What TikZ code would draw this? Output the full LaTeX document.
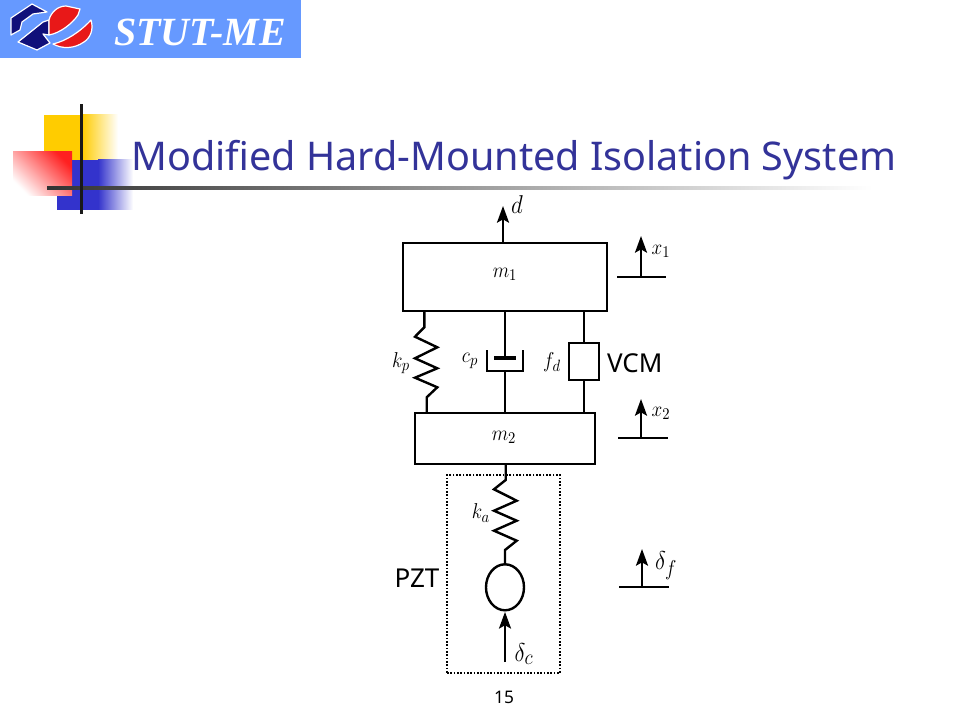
\documentclass[tikz,border=0pt]{standalone}
\usepackage{fontspec}
\usetikzlibrary{arrows.meta,shapes.geometric}
\setmainfont{Noto Sans}
\newfontfamily\logofont{Liberation Serif}
\definecolor{bannerblue}{HTML}{6699FF}
\definecolor{titleblue}{HTML}{333399}
\definecolor{logoblue}{HTML}{10107A}
\definecolor{logored}{HTML}{E81818}
\definecolor{accyellow}{HTML}{FFCC00}
\definecolor{accblue}{HTML}{3333CC}
\definecolor{accred}{HTML}{FF2020}
\definecolor{accline}{HTML}{333333}
\newcommand\symb[1]{\scalebox{1}[1.12]{$#1$}}
\tikzset{
  x=0.75pt,y=-0.75pt,
  part/.style={draw=black,line width=2.2pt,inner sep=0pt,outer sep=0pt,rectangle},
  rod/.style={draw=black,line width=1.8pt,line join=miter},
  thinrod/.style={draw=black,line width=1.3pt,line join=miter},
  pistonbar/.style={draw=black,line width=2.3pt},
  ref/.style={draw=black,line width=2.1pt},
  upArrow/.style={draw=black,line width=1.8pt,-{Stealth[length=12.5pt,width=9pt,inset=2.5pt]}},
  sym/.style={inner sep=0pt,outer sep=0pt,font=\fontsize{15pt}{17pt}\selectfont},
  bigsym/.style={inner sep=0pt,outer sep=0pt,font=\fontsize{19pt}{21pt}\selectfont},
  lab/.style={inner sep=0pt,outer sep=0pt,font=\fontsize{19.5pt}{22pt}\selectfont},
  logopart/.style={draw=white,line width=0.9pt,line join=round},
}
\begin{document}
\begin{tikzpicture}
\useasboundingbox (0,0) rectangle (960,720);
\fill[white] (0,0) rectangle (960,720);
% banner
\fill[bannerblue] (0,0) rectangle (301,58);
\filldraw[logopart,fill=logoblue] (11,18) -- (32,4) -- (47,12) -- (33,14) -- (22,22) -- (20,30) -- (11,35) -- cycle;
\filldraw[logopart,fill=logoblue] (18,42) -- (43,22) -- (49,20) -- (49,35) -- (43,34) -- (50,43) -- (37,50) -- cycle;
\filldraw[logopart,fill=logored] (49,20) .. controls (51,12) and (58,6) .. (66,6) -- (80,9) -- (78,15) .. controls (72,24) and (60,33) .. (49,35) -- cycle;
\filldraw[logopart,fill=logored] (53,44) .. controls (66,41) and (80,32) .. (91,20) .. controls (94,30) and (90,38) .. (84,42) .. controls (74,49) and (62,49) .. (53,44) -- cycle;
\node[inner sep=0pt,text=white,font=\logofont\fontsize{30pt}{32pt}\selectfont\bfseries\itshape] (logotext) at (200,32) {STUT-ME};
% accent squares
\shade[left color=accyellow,right color=white] (82,115) rectangle (118,160);
\fill[accyellow] (44,115) rectangle (83,160);
\fill[accblue] (57,160) rectangle (99,210);
\shade[left color=accblue,right color=white] (98,160) rectangle (133,210);
\shade[shading=axis,top color=accred,bottom color=white,shading angle=-45] (13,152) rectangle (72,196);
\shade[left color=accline,right color=white] (47,187) rectangle (872,190);
\fill[black!90] (80,104) rectangle (82.7,214);
% title
\node[inner sep=0pt,anchor=base west,text=titleblue] (title) at (131,171)
  {\resizebox{573.75pt}{!}{\fontsize{31.5pt}{36pt}\selectfont Modified Hard-Mounted Isolation System}};
% masses
\node[part,minimum width=153pt,minimum height=51pt] (m1) at (505,277) {};
\node[part,minimum width=135pt,minimum height=38.25pt] (m2) at (505,438.5) {};
\node[sym] (lm1) at (505,274) {\symb{m_{1}}};
\node[sym] (lm2) at (504,437) {\symb{m_{2}}};
% disturbance
\coordinate (dtip) at (503,206);
\draw[upArrow] (m1.north -| dtip) -- (dtip);
\node[bigsym] (ld) at (517,205) {\symb{d}};
% kp spring
\coordinate (kpa) at (424.3,311);
\coordinate (kpb) at (426.7,413);
\draw[rod] (kpa) -- (424.3,327.3) -- (415,336.7) -- (437.3,347.3) -- (415,358.3) -- (437.3,368.3) -- (415,377.7) -- (437.3,387.3) -- (426.7,397.3) -- (kpb);
\node[sym] (lkp) at (401,363) {\symb{k_p}};
% damper
\coordinate (dpa) at (505,311);
\coordinate (dpb) at (505,413);
\coordinate (dpp) at (505,358);
\coordinate (dpc) at (505,371);
\draw[rod] (dpa) -- (dpp);
\draw[pistonbar] (494,358) -- (516,358);
\draw[thinrod] (487,350) -- (487,371) -- (523,371) -- (523,350);
\draw[rod] (dpc) -- (dpb);
\node[sym] (lcp) at (470,361) {\symb{c_p}};
% VCM
\node[part,minimum width=22.5pt,minimum height=27.75pt] (vcm) at (584,361.5) {};
\draw[rod] (vcm.north |- m1.south) -- (vcm.north);
\draw[rod] (vcm.south) -- (vcm.south |- m2.north);
\node[sym] (lfd) at (552,362) {\symb{f_d}};
\node[lab,anchor=west] (lvcm) at (607,363) {VCM};
% PZT frame
\node[draw=black,dash pattern=on 1.3pt off 1.2pt,line width=1.6pt,minimum width=84.75pt,minimum height=148.5pt,inner sep=0pt,outer sep=0pt] (pzt) at (503.5,574) {};
% ka spring and actuator
\node[draw=black,line width=1.8pt,ellipse,minimum width=28.5pt,minimum height=34.5pt,inner sep=0pt,outer sep=0pt] (act) at (505,587.3) {};
\coordinate (kaa) at (505.7,464);
\draw[rod] (kaa) -- (505.7,480) -- (494,489.3) -- (516.7,500.7) -- (494,510.7) -- (516.7,520.7) -- (494,530.7) -- (516.7,540.7) -- (505,550) -- (act.north);
\node[sym] (lka) at (481,513) {\symb{k_a}};
\coordinate (dcb) at (505,662);
\draw[upArrow] (dcb) -- ([yshift=-1.2pt]act.south);
\node[bigsym] (ldc) at (524,654) {\symb{\delta_c}};
\node[lab] (lpzt) at (417,578) {PZT};
% reference marks
\coordinate (x1l) at (617,277); \coordinate (x1r) at (666,277);
\coordinate (x1b) at (641,277); \coordinate (x1t) at (641,236);
\draw[ref] (x1l) -- (x1r); \draw[upArrow] (x1b) -- (x1t);
\node[sym] (lx1) at (661,251) {\symb{x_{1}}};
\coordinate (x2l) at (618,438); \coordinate (x2r) at (668,438);
\coordinate (x2b) at (641,438); \coordinate (x2t) at (641,399);
\draw[ref] (x2l) -- (x2r); \draw[upArrow] (x2b) -- (x2t);
\node[sym] (lx2) at (661,413) {\symb{x_{2}}};
\coordinate (dfl) at (619,587); \coordinate (dfr) at (669,587);
\coordinate (dfb) at (642,587); \coordinate (dft) at (642,549);
\draw[ref] (dfl) -- (dfr); \draw[upArrow] (dfb) -- (dft);
\node[bigsym] (ldf) at (666,566) {\symb{\delta_f}};
% page number
\node[inner sep=0pt,font=\fontsize{13pt}{15pt}\selectfont] (page) at (504,697) {15};
\end{tikzpicture}
\end{document}
